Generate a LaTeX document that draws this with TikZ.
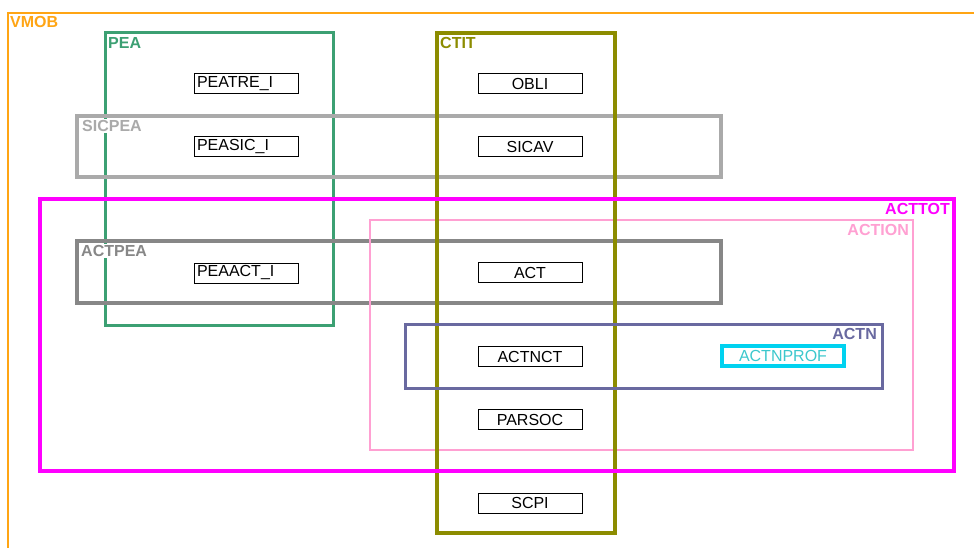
\documentclass[tikz,border=0pt]{standalone}
\usepackage{fontspec}
\setmainfont{Liberation Sans}
\definecolor{vmobc}{RGB}{255,165,20}
\definecolor{peac}{RGB}{60,160,115}
\definecolor{ctitc}{RGB}{140,140,0}
\definecolor{sicc}{RGB}{170,170,170}
\definecolor{actpc}{RGB}{135,135,135}
\definecolor{totc}{RGB}{255,0,255}
\definecolor{actionc}{RGB}{255,160,210}
\definecolor{actnc}{RGB}{105,105,160}
\definecolor{profc}{RGB}{0,210,240}
\definecolor{proftxt}{RGB}{60,200,205}
\tikzset{
    lbl/.style={fill=white, inner sep=1pt, font=\fontsize{16}{19}\selectfont\bfseries},
    item/.style={draw, fill=white, line width=1pt, minimum width=104pt, minimum height=20pt, inner sep=0pt, font=\fontsize{16}{19}\selectfont},
    itemleft/.style={item, text width=98pt, inner xsep=3pt, align=left}
}
\begin{document}
\begin{tikzpicture}[x=1pt, y=-1pt]
            \useasboundingbox (0,0) rectangle (974,548);

            \draw[vmobc, line width=2.5pt] (8,548) -- (8,13) -- (974,13);
            \node[lbl, anchor=north west, text=vmobc] (vmob) at (9,15) {VMOB};

            \draw[peac, line width=3pt] (105,33) rectangle (333,325);
            \node[lbl, anchor=north west, text=peac] (pea) at (107,36) {PEA};

            \draw[sicc, line width=3.5pt] (77,116) rectangle (721,177);
            \node[lbl, anchor=north west, text=sicc] (sicpea) at (81,119) {SICPEA};

            \draw[actpc, line width=3.5pt] (77,241) rectangle (721,303);
            \node[lbl, anchor=north west, text=actpc] (actpea) at (80,244) {ACTPEA};

            \draw[actionc, line width=2.5pt] (370,220) rectangle (913,450);
            \node[lbl, anchor=north east, text=actionc] (action) at (910,223) {ACTION};

            \draw[ctitc, line width=3.5pt] (437,33) rectangle (615,533);
            \node[lbl, anchor=north west, text=ctitc, fill=none] (ctit) at (439,36) {CTIT};

            \draw[totc, line width=3.5pt] (40,199) rectangle (954,471);
            \node[lbl, anchor=north east, text=totc] (acttot) at (951,202) {ACTTOT};

            \draw[actnc, line width=3pt] (405,324) rectangle (882,388);
            \node[lbl, anchor=north east, text=actnc] (actn) at (878,327) {ACTN};

            \node[itemleft] (peatre) at (246,84) {PEATRE\_I};
            \node[itemleft] (peasic) at (246,147) {PEASIC\_I};
            \node[itemleft] (peaact) at (246,273) {PEAACT\_I};

            \node[item] (obli) at (530,84) {OBLI};
            \node[item] (sicav) at (530,147) {SICAV};
            \node[item] (act) at (530,272.5) {ACT};
            \node[item] (actnct) at (530,356.5) {ACTNCT};
            \node[item] (parsoc) at (530,419.5) {PARSOC};
            \node[item] (scpi) at (530,503) {SCPI};

            \node[item, draw=profc, line width=3.5pt, minimum width=122pt, minimum height=20pt, text=proftxt] (actnprof) at (783,356) {ACTNPROF};
        \end{tikzpicture}
\end{document}
